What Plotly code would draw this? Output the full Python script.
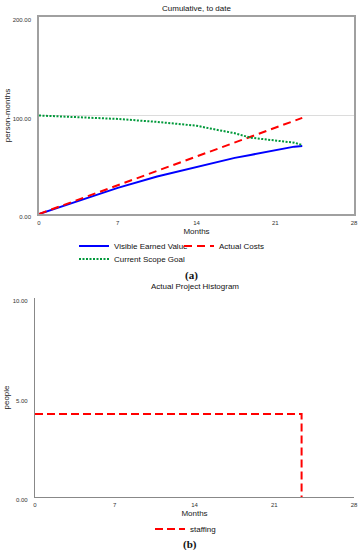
import plotly.graph_objects as go

# ---- data ----
ev_months = [0, 3.5, 7, 10.5, 14, 17.4, 18.8, 21, 22.7, 23.4]
ev_values = [0, 13.5, 26.5, 38, 48, 57, 60, 65, 68.4, 69]

ac_months = [0, 7, 14, 21, 23.4]
ac_values = [0, 29.2, 58.4, 87.6, 97.6]

sg_months = [0, 3.5, 7, 10.5, 14, 15.8, 17.4, 18.8, 21, 22.7, 23.4]
sg_values = [100, 98.6, 96.5, 93.5, 89.6, 85.5, 82, 77.5, 74.4, 72.4, 70]

staff_months = [0, 23.4]
staff_values = [4.17, 0]

x_ticks = [0, 7, 14, 21, 28]
y1_ticks = [0, 100, 200]
y2_ticks = [0, 5, 10]

W, H = 362, 550
FONT = "Liberation Sans, Arial, sans-serif"
SERIF = "Liberation Serif, Times New Roman, serif"

def py(p):
    return 1 - p / H

def px(p):
    return p / W

fig = go.Figure()
fig.add_trace(go.Scatter(x=ev_months, y=ev_values, mode="lines", name="Visible Earned Value",
                         line=dict(color="#0000ff", width=2), xaxis="x", yaxis="y", legend="legend"))
fig.add_trace(go.Scatter(x=ac_months, y=ac_values, mode="lines", name="Actual Costs",
                         line=dict(color="#ff0000", width=2, dash="8px,5px"), xaxis="x", yaxis="y", legend="legend2"))
fig.add_trace(go.Scatter(x=sg_months, y=sg_values, mode="lines", name="Current Scope Goal",
                         line=dict(color="#00993a", width=2, dash="2px,1.5px"), xaxis="x", yaxis="y", legend="legend3"))
fig.add_trace(go.Scatter(x=staff_months, y=staff_values, mode="lines", name="staffing", line_shape="hv",
                         line=dict(color="#ff0000", width=2, dash="8px,4px"), xaxis="x2", yaxis="y2", legend="legend4"))

tickfont = dict(family=FONT, size=6, color="#333")
titlefont = dict(family=FONT, size=8, color="#222")

common_x = dict(range=[0, 28], tickvals=x_ticks, ticktext=[str(v) for v in x_ticks], showgrid=False,
                zeroline=False, ticks="", tickfont=tickfont, ticklabelstandoff=2, automargin=False,
                title=dict(text="Months", font=titlefont, standoff=3))

fig.update_layout(
    width=W, height=H, margin=dict(l=0, r=0, t=0, b=0),
    paper_bgcolor="white", plot_bgcolor="white", font=dict(family=FONT),
    xaxis=dict(domain=[px(39), px(354)], anchor="y", showline=True, mirror=True,
               linecolor="#a0a0a0", linewidth=1.5, **common_x),
    yaxis=dict(domain=[py(214), py(17)], anchor="x", range=[0, 200], tickvals=y1_ticks, tickformat=".2f",
               showgrid=True, gridcolor="#dcdcdc", gridwidth=1.2, zeroline=False, ticks="",
               showline=True, mirror=True, linecolor="#a0a0a0", linewidth=1.5,
               tickfont=tickfont, ticklabelstandoff=5, ticklabelshift=3, automargin=False,
               title=dict(text="person-months", font=titlefont, standoff=1)),
    xaxis2=dict(domain=[px(35), px(354)], anchor="y2", showline=True, linecolor="#888", linewidth=1.2,
                **common_x),
    yaxis2=dict(domain=[py(497), py(298)], anchor="x2", range=[0, 10], tickvals=y2_ticks, tickformat=".2f",
                showgrid=False, zeroline=False, ticks="", showline=True, linecolor="#888", linewidth=1.2,
                tickfont=tickfont, ticklabelstandoff=5, ticklabelshift=3, automargin=False,
                title=dict(text="people", font=titlefont, standoff=1)),
    showlegend=True,
)

legfont = dict(family=FONT, size=8, color="#111")
def leg(x_item, y_center):
    return dict(x=px(x_item), y=py(y_center), xanchor="left", yanchor="middle", orientation="h",
                font=legfont, bgcolor="rgba(0,0,0,0)", borderwidth=0, itemwidth=30)

fig.update_layout(
    legend=leg(74, 246),
    legend2=leg(179, 246),
    legend3=leg(74, 259),
    legend4=leg(150, 529),
)

annots = [
    dict(text="Cumulative, to date", x=px(196.5), y=py(9), font=dict(family=FONT, size=8, color="#111")),
    dict(text="<b>(a)</b>", x=px(191.5), y=py(275), font=dict(family=SERIF, size=11, color="#111")),
    dict(text="Actual Project Histogram", x=px(195), y=py(286), font=dict(family=FONT, size=8, color="#111")),
    dict(text="<b>(b)</b>", x=px(189.5), y=py(544), font=dict(family=SERIF, size=11, color="#111")),
]
for a in annots:
    fig.add_annotation(xref="paper", yref="paper", xanchor="center", yanchor="middle", showarrow=False, **a)

fig.write_html("out.html", config={"displayModeBar": False},
               post_script="document.body.style.margin='0';document.body.style.overflow='hidden';")
